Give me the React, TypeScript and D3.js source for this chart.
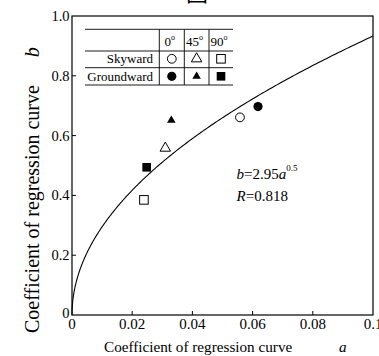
import * as d3 from 'd3';

// regression coefficient data
const angles = ['0', '45', '90'];
const directions = ['Skyward', 'Groundward'];
const skywardA = [0.0558, 0.031, 0.0239];
const skywardB = [0.661, 0.558, 0.385];
const groundwardA = [0.0618, 0.033, 0.0248];
const groundwardB = [0.697, 0.651, 0.494];
const xTicks = [0, 0.02, 0.04, 0.06, 0.08, 0.1];
const yTicks = [0, 0.2, 0.4, 0.6, 0.8, 1.0];
const fitCoef = 2.95;
const fitPow = 0.5;

const W = 379;
const H = 356;
const FONT = 'Liberation Serif, Times New Roman, serif';
const serif = { fontFamily: FONT };

function Marker({ kind, filled, x, y }: { kind: number; filled: boolean; x: number; y: number }) {
  const fill = filled ? '#000' : '#fff';
  const stroke = '#000';
  if (kind === 0) {
    return <circle cx={x} cy={y} r={filled ? 4.6 : 4.4} fill={fill} stroke={stroke} strokeWidth={filled ? 0 : 1} />;
  }
  if (kind === 1) {
    const s = filled ? 8.5 : 10.5;
    const sym = d3.symbol().type(d3.symbolTriangle).size((s * s * Math.sqrt(3)) / 4)();
    return <path d={sym as string} transform={`translate(${x},${y})`} fill={fill} stroke={stroke} strokeWidth={filled ? 0 : 1} />;
  }
  const s = 8.6;
  return <rect x={x - s / 2} y={y - s / 2} width={s} height={s} fill={fill} stroke={stroke} strokeWidth={filled ? 0 : 1} />;
}

export default function App() {
  const x = d3.scaleLinear().domain([0, 0.1]).range([72, 373]);
  const y = d3.scaleLinear().domain([0, 1]).range([315, 16]);

  // fitted curve b = 2.95 a^0.5
  const fitPts = d3.range(0, 1.0001, 0.005).map((t) => {
    const a = 0.1 * t * t;
    return [a, fitCoef * Math.pow(a, fitPow)] as [number, number];
  });
  const line = d3
    .line<[number, number]>()
    .x((d) => x(d[0]))
    .y((d) => y(d[1]));

  // legend table layout
  const rowLines = [29.3, 51, 67.7, 85];
  const colLines = [159.3, 184.3, 209];
  const colCenters = [171.8, 196.6, 221];
  const rowCenters = [58.8, 76.3];

  return (
    <svg
      width={W}
      height={H}
      style={{ position: 'absolute', left: 0, top: 0, background: '#fff', fontFamily: FONT }}
    >
      <rect width={W} height={H} fill="#fff" />
      <text x={186} y={0.5} fontSize={22} style={{ fontFamily: 'Noto Sans CJK JP' }}>
        図
      </text>

      {/* frame */}
      <rect x={72} y={16} width={301} height={299} fill="none" stroke="#000" strokeWidth={1.2} />

      {/* ticks */}
      {xTicks.slice(1, -1).map((t) => (
        <line key={'xt' + t} x1={x(t)} x2={x(t)} y1={315} y2={311} stroke="#000" strokeWidth={1} />
      ))}
      {yTicks.slice(1, -1).map((t) => (
        <line key={'yt' + t} x1={72} x2={76} y1={y(t)} y2={y(t)} stroke="#000" strokeWidth={1} />
      ))}

      {/* tick labels */}
      {xTicks.map((t) => (
        <text key={'xl' + t} x={x(t)} y={329} fontSize={15} textAnchor="middle" style={serif}>
          {t === 0 ? '0' : t === 0.1 ? '0.1' : t.toFixed(2)}
        </text>
      ))}
      {yTicks.map((t) => (
        <text
          key={'yl' + t}
          x={69.5}
          y={t === 0 ? y(t) + 3 : y(t) + 5}
          fontSize={14.5}
          textAnchor="end"
          style={serif}
        >
          {t === 0 ? '0' : t.toFixed(1)}
        </text>
      ))}

      {/* axis titles */}
      <text x={104} y={352} fontSize={15.2} style={serif}>
        Coefficient of regression curve
        <tspan x={339} fontStyle="italic">
          a
        </tspan>
      </text>
      <text transform="translate(39,333) rotate(-90)" fontSize={20} style={serif}>
        Coefficient of regression curve
        <tspan fontStyle="italic" dx={28}>
          b
        </tspan>
      </text>

      {/* fitted curve */}
      <path d={line(fitPts) as string} fill="none" stroke="#000" strokeWidth={1.1} />

      {/* data points */}
      {skywardA.map((a, i) => (
        <Marker key={'s' + i} kind={i} filled={false} x={x(a)} y={y(skywardB[i])} />
      ))}
      {groundwardA.map((a, i) => (
        <Marker key={'g' + i} kind={i} filled={true} x={x(a)} y={y(groundwardB[i])} />
      ))}

      {/* equation */}
      <text x={236.5} y={179} fontSize={15} style={serif}>
        <tspan fontStyle="italic">b</tspan>=2.95<tspan fontStyle="italic">a</tspan>
        <tspan fontSize={9} dy={-8}>
          0.5
        </tspan>
      </text>
      <text x={236.5} y={200.5} fontSize={15} style={serif}>
        <tspan fontStyle="italic">R</tspan>=0.818
      </text>

      {/* legend table */}
      {rowLines.map((ly) => (
        <line key={'rl' + ly} x1={85} x2={233} y1={ly} y2={ly} stroke="#000" strokeWidth={0.9} />
      ))}
      {colLines.map((lx) => (
        <line key={'cl' + lx} x1={lx} x2={lx} y1={29.3} y2={85} stroke="#000" strokeWidth={0.9} />
      ))}
      {angles.map((ang, i) => (
        <text key={'ang' + ang} x={colCenters[i] - 2} y={46} fontSize={13} textAnchor="middle" style={serif}>
          {ang}
          <tspan fontSize={8} dy={-6}>
            o
          </tspan>
        </text>
      ))}
      {directions.map((dir, r) => (
        <text key={dir} x={153} y={rowCenters[r] + 4.5} fontSize={13} textAnchor="end" style={serif}>
          {dir}
        </text>
      ))}
      {directions.map((dir, r) =>
        angles.map((ang, i) => (
          <Marker key={dir + ang} kind={i} filled={r === 1} x={colCenters[i]} y={rowCenters[r]} />
        ))
      )}
    </svg>
  );
}
